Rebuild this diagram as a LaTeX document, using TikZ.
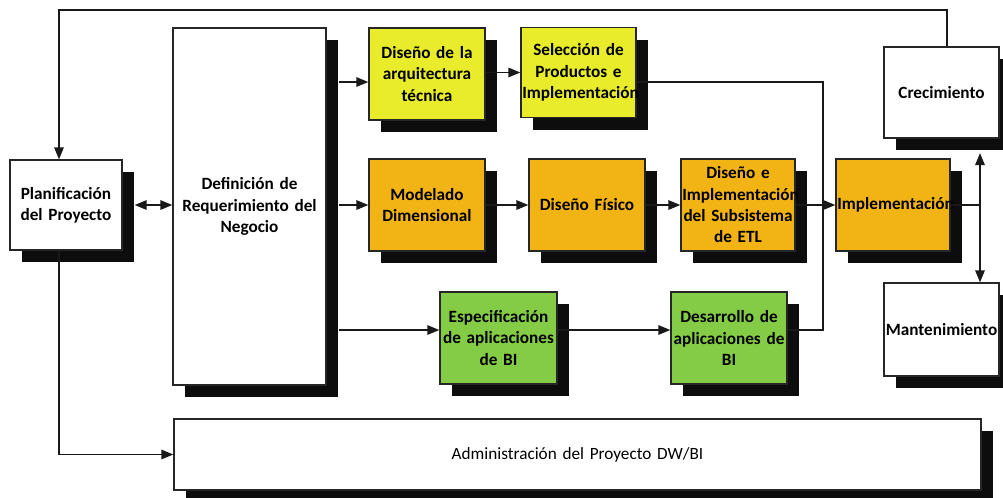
\documentclass[tikz,border=0pt]{standalone}
\usepackage{fontspec}
\setmainfont{Carlito}
\usetikzlibrary{arrows.meta,shadows}
\definecolor{cyel}{HTML}{E8EC2A}
\definecolor{corg}{HTML}{F2B415}
\definecolor{cgrn}{HTML}{84CC45}
\tikzset{
 box/.style={draw=black!85, line width=0.9pt, fill=white, align=center,
   font=\fontsize{12.9}{16}\selectfont\bfseries, inner sep=1pt,
   drop shadow={shadow xshift=9pt, shadow yshift=-9pt, fill=black!95, opacity=1}},
 sz/.style 2 args={text width=#1*0.75pt-2pt, minimum height=#2*0.75pt},
 conn/.style={line width=1.4pt, draw=black!90},
 arr/.style={conn, -{Triangle[length=9pt,width=7pt]}},
 darr/.style={conn, {Triangle[length=9pt,width=7pt]}-{Triangle[length=9pt,width=7pt]}},
}
\begin{document}
\begin{tikzpicture}[x=0.75pt,y=-0.75pt]
\useasboundingbox (0,0) rectangle (1003,497);
\node[box,sz={112}{90}] (plan) at (66,205) {Planificación\\del Proyecto};
\node[box,sz={153}{357}] (def) at (249.5,206.5) {Definición de\\Requerimiento del\\Negocio};
\node[box,fill=cyel,sz={116}{92}] (dis) at (427,74) {Diseño de la\\arquitectura\\técnica};
\node[box,fill=cyel,sz={115}{90}] (sel) at (578.5,72.5) {Selección de\\Productos e\\Implementación};
\node[box,fill=corg,sz={116}{92}] (mod) at (427,205) {Modelado\\Dimensional};
\node[box,fill=corg,sz={116}{92}] (fis) at (587,205) {Diseño Físico};
\node[box,fill=corg,sz={114}{92}] (etl) at (738,205) {Diseño e\\Implementación\\del Subsistema\\de ETL};
\node[box,fill=corg,sz={114}{92}] (imp) at (893,205) {Implementación};
\node[box,sz={115}{91}] (cre) at (941.5,92.5) {Crecimiento};
\node[box,sz={115}{93}] (man) at (941.5,329.5) {Mantenimiento};
\node[box,fill=cgrn,sz={117}{92}] (esp) at (498.5,338) {Especificación\\de aplicaciones\\de BI};
\node[box,fill=cgrn,sz={116}{92}] (des) at (729,338) {Desarrollo de\\aplicaciones de\\BI};
\node[box,font=\fontsize{12.9}{16}\selectfont,sz={807}{71}] (adm) at (577.5,454.5) {Administración del Proyecto DW/BI};
\coordinate (ytop) at (0,10);
\coordinate (jx) at (823,205);
\coordinate (vx) at (980,205);
\coordinate (vtop) at (980,153);
\coordinate (c1) at ([xshift=4pt]cre.north);
\coordinate (p1) at ([xshift=-5.25pt]plan.north);
\coordinate (a1) at ([yshift=-6pt]dis.west);
\coordinate (g1) at ([yshift=6pt]esp.west);
\draw[arr] (c1) -- (c1 |- ytop) -| (p1);
\draw[darr] ([xshift=9pt]plan.east) -- (plan.east -| def.west);
\draw[arr] ([xshift=9pt]def.east |- a1) -- (a1);
\draw[arr] (sel.west -| dis.east) -- (sel.west);
\draw[conn] ([yshift=-7pt]sel.east) -| (jx);
\draw[arr] ([xshift=9pt]def.east |- mod.west) -- (mod.west);
\draw[arr] (mod.east) -- (fis.west);
\draw[arr] (fis.east) -- (etl.west);
\draw[arr] (etl.east) -- (imp.west);
\draw[arr] ([xshift=9pt]def.east |- g1) -- (g1);
\draw[arr] ([yshift=6pt]esp.east) -- ([yshift=6pt]des.west);
\draw[conn] ([yshift=6pt]des.east) -| (jx);
\draw[conn] (imp.east) -- (vx);
\draw[darr] (vtop) -- (vx |- man.north);
\draw[arr] ([xshift=-5.25pt]plan.south) |- (adm.west);
\end{tikzpicture}
\end{document}
